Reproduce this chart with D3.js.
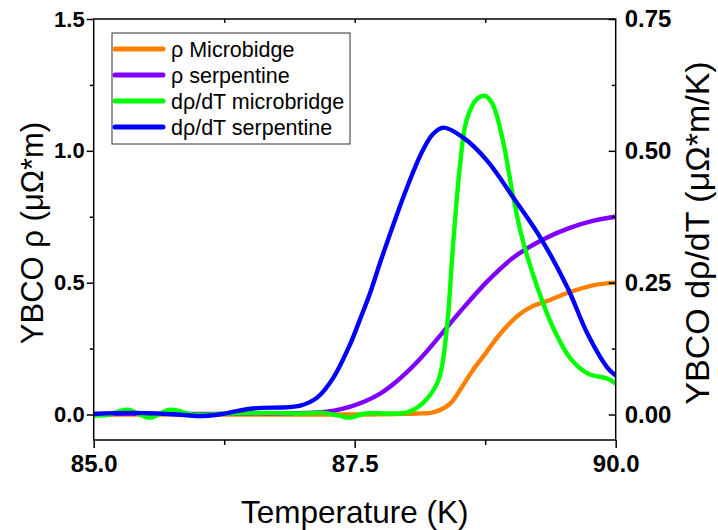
<!DOCTYPE html>
<html><head><meta charset="utf-8">
<script src="https://cdn.jsdelivr.net/npm/d3@7"></script>
<style>body{margin:0;background:#fff}svg{display:block}text{font-family:Arial,"Liberation Sans",sans-serif}</style>
</head><body><svg id="c" width="718" height="530"></svg>
<script>
// data (temperature in K)
const orangeT = [85.0,85.5,86.0,86.5,87.0,87.5,87.9,88.1,88.25,88.41,88.52,88.63,88.75,88.86,88.97,89.08,89.2,89.34,89.53,89.78,90.0];
const orangeV = [0.0,0.0,0.0,0.0,0.0,0.0,0.002,0.004,0.008,0.04,0.10,0.167,0.23,0.29,0.34,0.38,0.41,0.43,0.46,0.49,0.50];
const purpleT = [85.0,85.5,86.0,86.5,86.9,87.14,87.3,87.46,87.6,87.74,87.9,88.1,88.32,88.51,88.77,89.02,89.28,89.54,89.79,90.0];
const purpleV = [0.002,0.003,0.002,0.004,0.005,0.008,0.015,0.03,0.05,0.078,0.125,0.2,0.3,0.39,0.505,0.595,0.659,0.705,0.735,0.75];
const greenT = [85.0,85.15,85.32,85.54,85.73,85.95,86.3,86.7,87.0,87.2,87.35,87.45,87.6,87.8,88.0,88.15,88.3,88.38,88.44,88.51,88.57,88.67,88.75,88.82,88.92,89.02,89.11,89.25,89.4,89.56,89.73,89.92,90.0];
const greenV = [-0.002,0.0,0.009,-0.006,0.009,0.0,0.002,0.003,0.002,0.003,-0.002,-0.006,0.002,0.002,0.004,0.021,0.064,0.159,0.316,0.475,0.557,0.598,0.604,0.589,0.519,0.411,0.33,0.241,0.165,0.108,0.078,0.068,0.059];
const blueT = [85.0,85.4,85.8,86.0,86.2,86.5,86.98,87.14,87.29,87.46,87.55,87.65,87.75,87.87,88.0,88.15,88.25,88.35,88.54,88.77,89.02,89.28,89.54,89.73,89.92,90.0];
const blueV = [0.001,0.003,0.0,-0.003,0.0,0.011,0.017,0.032,0.068,0.135,0.18,0.232,0.292,0.36,0.43,0.5,0.532,0.544,0.525,0.481,0.411,0.335,0.24,0.153,0.089,0.074];
const xTicks = [85.0,87.5,90.0];
const leftTicks = [0.0,0.5,1.0,1.5];
const rightTicks = [0.00,0.25,0.50,0.75];
const legendLabels = ["ρ Microbidge","ρ serpentine","dρ/dT microbridge","dρ/dT serpentine"];
const colors = ["#ff8000","#8000ff","#00ff00","#0000ff"];

const svg = d3.select("#c");
const L=93.7, R=615.7, T=19, B=440;
const x = d3.scaleLinear().domain([85,90]).range([L,R]);
const yL = d3.scaleLinear().domain([0,1.5]).range([414.5,T]);
const yR = d3.scaleLinear().domain([0,0.75]).range([414.5,T]);

const defs = svg.append("defs");
defs.append("clipPath").attr("id","clip").append("rect").attr("x",L).attr("y",T).attr("width",R-L).attr("height",B-T);

const series = [
  {t:orangeT,v:orangeV,y:yL},
  {t:purpleT,v:purpleV,y:yL},
  {t:greenT,v:greenV,y:yR},
  {t:blueT,v:blueV,y:yR}
];
const g = svg.append("g").attr("clip-path","url(#clip)");
series.forEach((s,i)=>{
  const line = d3.line().x(d=>x(d[0])).y(d=>s.y(d[1])).curve(d3.curveCatmullRom.alpha(0.5));
  g.append("path").datum(s.t.map((t,j)=>[t,s.v[j]]))
   .attr("d",line).attr("fill","none").attr("stroke",colors[i]).attr("stroke-width",4.4)
   .attr("stroke-linejoin","round").attr("stroke-linecap","round");
});

// frame axes
const fmt1 = d3.format(".1f"), fmt2 = d3.format(".2f");
const ax = svg.append("g").attr("transform",`translate(0,${B})`)
  .call(d3.axisBottom(x).tickValues([85,86.25,87.5,88.75,90]).tickSize(6).tickPadding(8).tickFormat(d=>xTicks.includes(d)?fmt1(d):""));
ax.selectAll(".tick line").attr("y2",(d)=>xTicks.includes(d)?8:5);
ax.selectAll(".tick text").attr("y",15);
const axT = svg.append("g").attr("transform",`translate(0,${T})`)
  .call(d3.axisBottom(x).tickValues([86.25,87.5,88.75]).tickSize(4).tickFormat(""));
axT.select(".domain").remove();
const ayl = svg.append("g").attr("transform",`translate(${L},0)`)
  .call(d3.axisLeft(yL).tickValues([0,0.25,0.5,0.75,1.0,1.25,1.5]).tickSize(6).tickPadding(4).tickFormat(d=>leftTicks.includes(d)?fmt1(d):""));
ayl.selectAll(".tick line").attr("x2",d=>leftTicks.includes(d)?-7:-4);
ayl.selectAll(".tick text").attr("x",-9);
const ayr = svg.append("g").attr("transform",`translate(${R},0)`)
  .call(d3.axisRight(yR).tickValues([0,0.125,0.25,0.375,0.5,0.625,0.75]).tickSize(6).tickPadding(10).tickFormat(d=>rightTicks.includes(d)?fmt2(d):""));
ayr.selectAll(".tick line").attr("x2",d=>rightTicks.includes(d)?-7:-4);
ayr.selectAll(".tick text").attr("x",9);
[ax,ayl,ayr].forEach(a=>{a.selectAll(".domain").remove();});
svg.append("rect").attr("x",L).attr("y",T).attr("width",R-L).attr("height",B-T).attr("fill","none").attr("stroke","#000").attr("stroke-width",1.5);
svg.selectAll(".tick line").attr("stroke","#000").attr("stroke-width",1.5);
svg.selectAll(".tick text").attr("font-weight","bold").attr("fill","#000");
ayl.selectAll(".tick text").attr("font-size",22);
ax.selectAll(".tick text").attr("font-size",24);
ayr.selectAll(".tick text").attr("font-size",24);

// titles
svg.append("text").attr("x",(L+R)/2).attr("y",523).attr("text-anchor","middle").attr("font-size",31.5).text("Temperature (K)");
svg.append("text").attr("transform",`translate(43,233) rotate(-90)`).attr("text-anchor","middle").attr("font-size",31).text("YBCO ρ (μΩ*m)");
svg.append("text").attr("transform",`translate(709,233) rotate(-90)`).attr("text-anchor","middle").attr("font-size",34).text("YBCO dρ/dT (μΩ*m/K)");

// legend
const lg = svg.append("g");
lg.append("rect").attr("x",112).attr("y",33).attr("width",238).attr("height",111).attr("fill","#fff").attr("stroke","#333").attr("stroke-width",1);
const ys = [49,75,101,127];
legendLabels.forEach((lab,i)=>{
  lg.append("line").attr("x1",115).attr("x2",163).attr("y1",ys[i]).attr("y2",ys[i]).attr("stroke",colors[i]).attr("stroke-width",5).attr("stroke-linecap","round");
  lg.append("text").attr("x",171).attr("y",ys[i]+7.5).attr("font-size",21.5).text(lab);
});
</script></body></html>
